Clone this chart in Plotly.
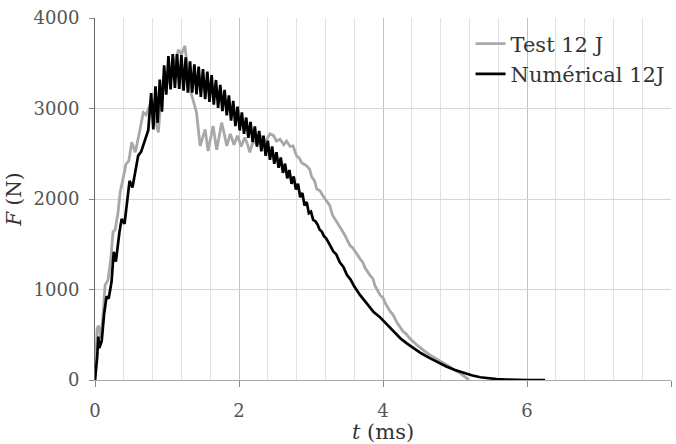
import plotly.graph_objects as go

# ---- Test 12 J (grey) ----
test_t = [0, 0.03, 0.05, 0.08, 0.11, 0.14, 0.18, 0.22, 0.25, 0.28,
          0.32, 0.35, 0.38, 0.43, 0.47, 0.51, 0.56, 0.60, 0.625, 0.67,
          0.71, 0.74, 0.79, 0.83, 0.88, 0.92, 0.97, 1.02, 1.07, 1.12,
          1.16, 1.20, 1.25, 1.27, 1.32, 1.36, 1.41, 1.46, 1.50, 1.53,
          1.57, 1.61, 1.64, 1.69, 1.73, 1.76, 1.80, 1.83, 1.88, 1.93,
          1.98, 2.03, 2.08, 2.12, 2.15, 2.20, 2.25, 2.30, 2.36, 2.43,
          2.48, 2.52, 2.57, 2.62, 2.66, 2.71, 2.75, 2.80, 2.84, 2.87,
          2.94, 2.98, 3.01, 3.05, 3.08, 3.125, 3.17, 3.22, 3.26, 3.30,
          3.35, 3.40, 3.44, 3.47, 3.54, 3.58, 3.61, 3.68, 3.72, 3.75,
          3.82, 3.86, 3.89, 3.96, 4.00, 4.03, 4.10, 4.14, 4.19, 4.28,
          4.32, 4.37, 4.47, 4.51, 4.56, 4.65, 4.70, 4.76, 4.88, 4.92,
          4.97, 5.07, 5.13, 5.19]
test_f = [0, 571, 600, 461, 700, 1048, 1102, 1340, 1637, 1660,
          1850, 2077, 2187, 2385, 2420, 2626, 2516, 2650, 2769, 2956,
          2930, 2990, 3099, 2900, 2736, 3150, 3250, 3300, 3350, 3550,
          3649, 3600, 3692, 3539, 3209, 3100, 2956, 2586, 2700, 2769,
          2531, 2700, 2806, 2545, 2700, 2846, 2700, 2586, 2720, 2600,
          2700, 2580, 2680, 2600, 2516, 2650, 2600, 2700, 2620, 2720,
          2700, 2640, 2660, 2600, 2640, 2580, 2586, 2476, 2450, 2400,
          2366, 2330, 2245, 2200, 2110, 2090, 2030, 1967, 1930, 1820,
          1760, 1700, 1640, 1600, 1487, 1460, 1420, 1341, 1300, 1240,
          1157, 1120, 1040, 937, 910, 850, 758, 720, 640, 535,
          510, 460, 388, 360, 330, 278, 255, 220, 168, 150,
          120, 77, 40, 3]

# ---- Numérical 12J (black) ----
num_t_rise = [0, 0.03, 0.046, 0.06, 0.08, 0.093, 0.125, 0.16, 0.19, 0.23,
              0.26, 0.29, 0.34, 0.37, 0.41, 0.45, 0.48, 0.52, 0.56, 0.60,
              0.64, 0.67, 0.71, 0.74]
num_f_rise = [0, 250, 480, 352, 400, 428, 718, 923, 901, 1088,
              1417, 1308, 1637, 1780, 1725, 1967, 2201, 2128, 2330, 2480,
              2520, 2600, 2680, 2760]

num_t_osc = [0.78, 0.81, 0.84, 0.87, 0.90, 0.93, 0.96, 0.99, 1.02, 1.05,
             1.08, 1.11, 1.14, 1.17, 1.20, 1.23, 1.26, 1.29, 1.32, 1.35,
             1.38, 1.41, 1.44, 1.47, 1.50, 1.53, 1.56, 1.59, 1.62, 1.65,
             1.68, 1.71, 1.74, 1.77, 1.80, 1.83, 1.86, 1.89, 1.92, 1.95,
             1.98, 2.01, 2.04, 2.07, 2.10, 2.13, 2.16, 2.19, 2.22, 2.25,
             2.28, 2.31, 2.34, 2.37, 2.40, 2.43, 2.46, 2.49, 2.52, 2.55,
             2.58, 2.61, 2.64, 2.67, 2.70, 2.73, 2.76, 2.79, 2.82, 2.85,
             2.88, 2.91, 2.94, 2.97, 3.00]
num_f_osc = [3170, 2768, 3245, 2842, 3320, 2964, 3478, 3152, 3578, 3210,
             3602, 3228, 3602, 3216, 3590, 3198, 3566, 3174, 3522, 3175,
             3488, 3156, 3462, 3128, 3435, 3102, 3408, 3074, 3370, 3042,
             3315, 3008, 3260, 2972, 3205, 2925, 3145, 2865, 3085, 2805,
             3020, 2757, 2958, 2719, 2900, 2676, 2852, 2628, 2803, 2578,
             2752, 2526, 2701, 2476, 2645, 2433, 2581, 2390, 2517, 2345,
             2458, 2289, 2391, 2228, 2320, 2167, 2249, 2106, 2168, 2020,
             2067, 1929, 1966, 1843, 1860]

num_t_tail = [3.03, 3.06, 3.09, 3.12, 3.15, 3.18, 3.21, 3.25, 3.31, 3.35,
              3.40, 3.45, 3.50, 3.55, 3.60, 3.68, 3.75, 3.80, 3.87, 3.95,
              4.05, 4.15, 4.24, 4.33, 4.42, 4.53, 4.65, 4.76, 4.88, 5.00,
              5.12, 5.23, 5.35, 5.47, 5.58, 5.70, 5.81, 6.00, 6.25]
num_f_tail = [1770, 1755, 1720, 1660, 1640, 1590, 1565, 1510, 1420, 1390,
              1300, 1250, 1160, 1110, 1035, 940, 870, 810, 750, 700,
              615, 530, 462, 405, 352, 295, 242, 195, 150, 110,
              77, 52, 30, 17, 10, 5, 2, 0, 0]

num_t = num_t_rise + num_t_osc + num_t_tail
num_f = num_f_rise + num_f_osc + num_f_tail

x_ticks = [0, 2, 4, 6, 8]
y_ticks = [0, 1000, 2000, 3000, 4000]

FONT = "DejaVu Serif"

fig = go.Figure()
fig.add_trace(go.Scatter(x=test_t, y=test_f, mode="lines", name="Test 12 J",
                         line=dict(color="#a8a8a8", width=2.8)))
fig.add_trace(go.Scatter(x=num_t, y=num_f, mode="lines", name="Numérical 12J",
                         line=dict(color="#000000", width=2.7)))

fig.update_layout(
    width=676, height=444,
    margin=dict(l=95, r=5, t=18, b=62),
    plot_bgcolor="white", paper_bgcolor="white",
    font=dict(family=FONT, color="#444"),
    showlegend=True,
    legend=dict(x=0.652, y=0.985, xanchor="left", yanchor="top",
                bgcolor="rgba(0,0,0,0)", font=dict(size=21, color="#333"),
                itemwidth=30, tracegroupgap=0),
)
fig.update_xaxes(
    range=[0, 8], tickvals=x_ticks, ticktext=[str(v) for v in x_ticks],
    showgrid=True, gridcolor="#c2c2c2", gridwidth=1,
    minor=dict(dtick=0.4, tick0=0, showgrid=True, gridcolor="#e2e2e2", gridwidth=1),
    ticks="outside", ticklen=6, tickcolor="#888",
    showline=True, linecolor="#aaaaaa", linewidth=1, zeroline=False,
    tickfont=dict(size=18, color="#555"), ticklabelstandoff=8,
    title=dict(text="<i>t</i> (ms)", font=dict(size=21, color="#333"), standoff=4),
)
fig.update_yaxes(
    range=[0, 4000], tickvals=y_ticks, ticktext=[str(v) for v in y_ticks],
    showgrid=True, gridcolor="#d5d5d5", gridwidth=1,
    ticks="outside", ticklen=5, tickcolor="#888",
    showline=True, linecolor="#666666", linewidth=1, zeroline=False,
    tickfont=dict(size=18, color="#555"), ticklabelstandoff=6,
    title=dict(text="<i>F</i> (N)", font=dict(size=20, color="#333"), standoff=6),
)

fig.write_html("out.html")
